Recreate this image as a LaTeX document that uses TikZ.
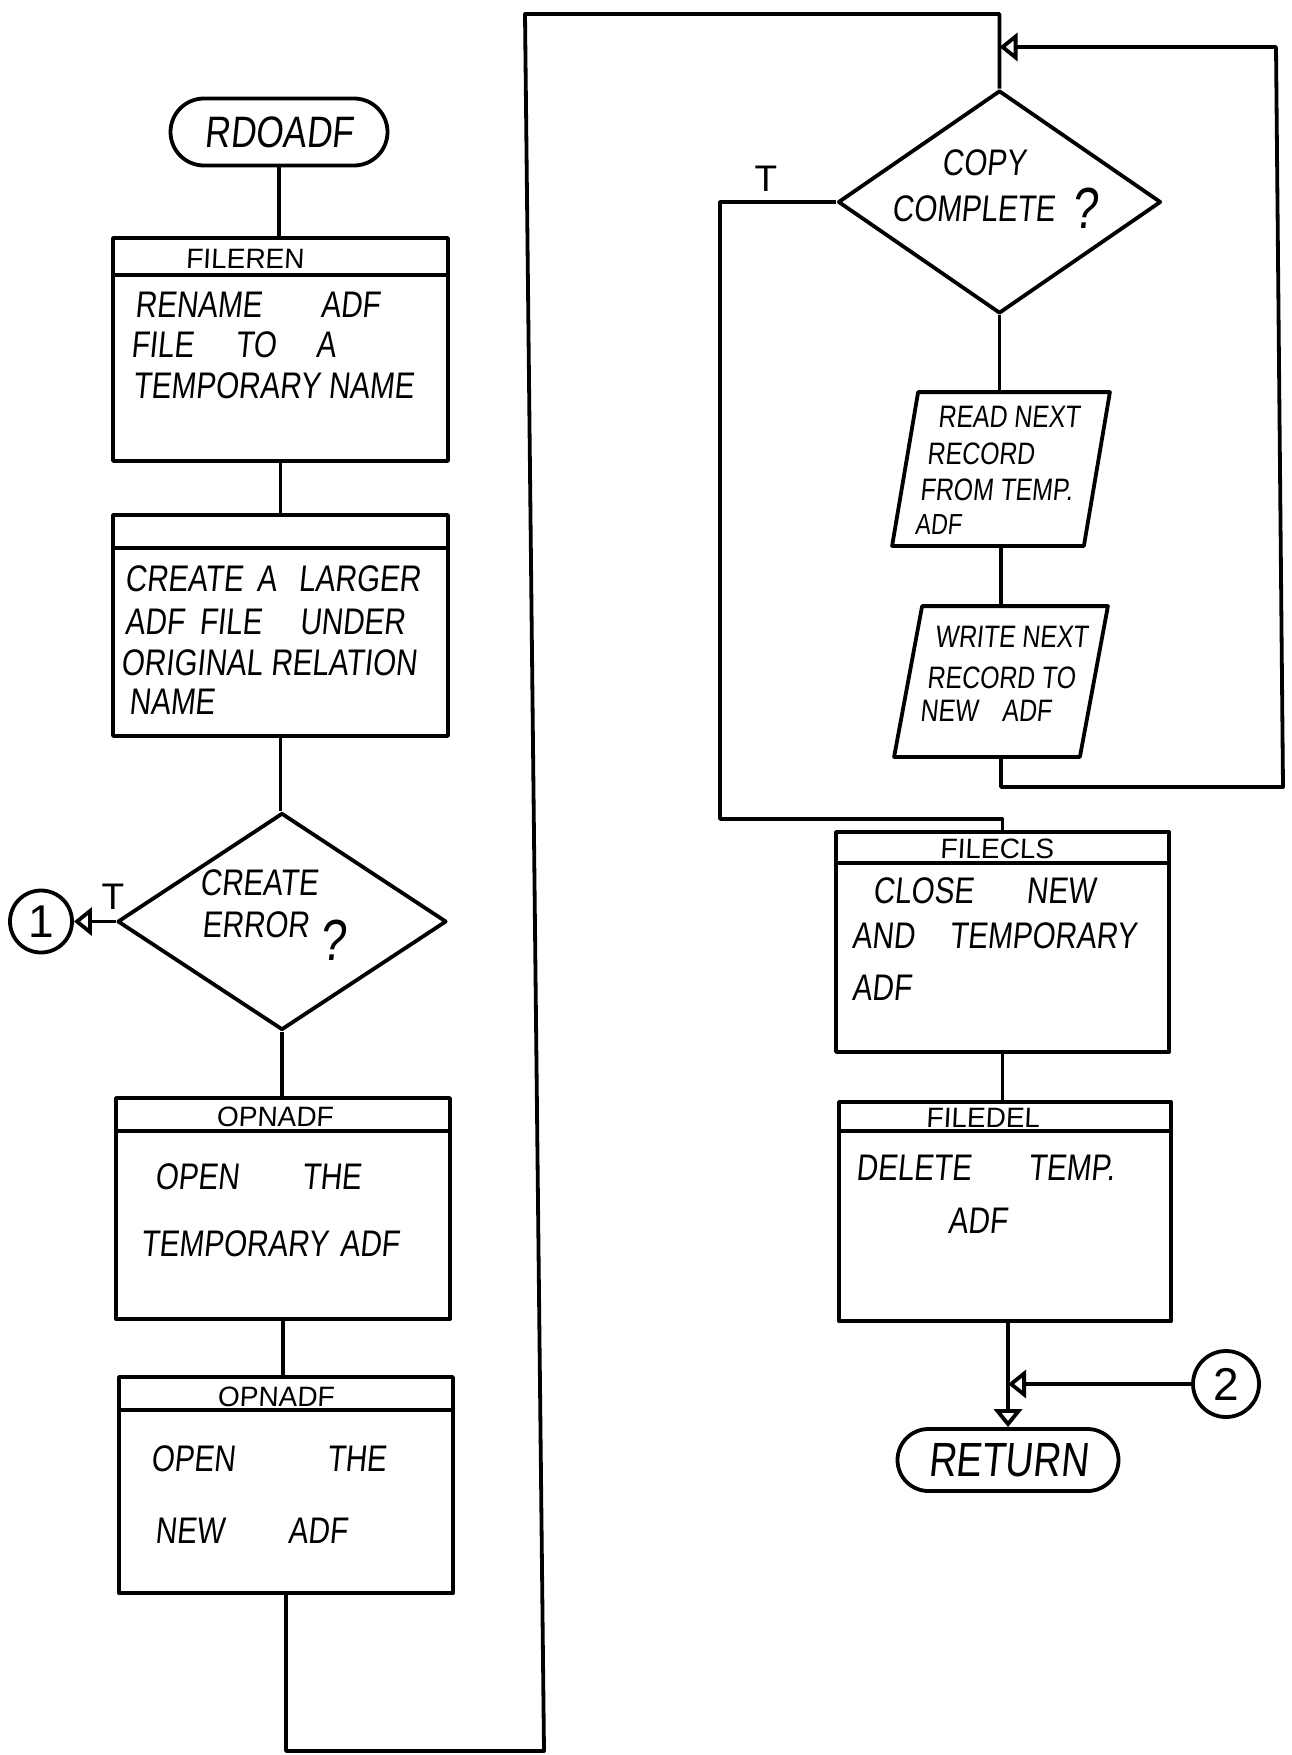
\documentclass[tikz,border=0pt]{standalone}
\usepackage{fontspec}
\setmainfont[FakeStretch=0.8,FakeSlant=0.1]{Liberation Sans}
\newfontfamily\hdfont[FakeSlant=0.05]{Liberation Sans}
\newfontfamily\upfont{Liberation Sans}
\usetikzlibrary{shapes.geometric,shapes.misc,arrows.meta,calc}
\begin{document}
\begin{tikzpicture}[x=1pt,y=-1pt, line width=3.8pt, line join=round,
  box/.style={draw, rectangle, inner sep=0},
  term/.style={draw, rounded rectangle, inner sep=0},
  dec/.style={draw, diamond, inner sep=0},
  iobox/.style={rectangle, inner sep=0},
  conn/.style={draw, circle, inner sep=0, font=\upfont\fontsize{46}{46}\selectfont},
  arr/.style={-{Triangle[open,length=18pt,width=28pt]}},
  body/.style={anchor=base west, inner sep=0, font=\fontsize{37}{40}\selectfont},
  pbody/.style={anchor=base west, inner sep=0, font=\fontsize{31}{34}\selectfont},
  hdr/.style={anchor=base, inner sep=0, font=\hdfont\fontsize{28}{30}\selectfont},
  qmark/.style={anchor=base west, inner sep=0, font=\fontsize{58}{58}\selectfont},
  tlab/.style={inner sep=0, font=\upfont\fontsize{37}{37}\selectfont}]
\useasboundingbox (0,0) rectangle (1291,1755);

% ---------- shapes, left column ----------
\node[term, minimum width=217pt, minimum height=67pt, font=\fontsize{44}{44}\selectfont] (start) at (279,132) {RDOADF};
\node[box, minimum width=335pt, minimum height=223pt] (b1) at (280.5,349.5) {};
\node[box, minimum width=335pt, minimum height=221pt] (b2) at (280.5,625.5) {};
\node[dec, minimum width=329pt, minimum height=217pt] (d1) at (282,921.5) {};
\node[conn, minimum size=62pt] (c1) at (41,921.5) {1};
\node[box, minimum width=334pt, minimum height=221pt] (b3) at (283,1208.5) {};
\node[box, minimum width=334pt, minimum height=216pt] (b4) at (286,1485) {};

% ---------- shapes, right column ----------
\node[dec, minimum width=323pt, minimum height=223pt] (d2) at (999.5,202) {};
\node[iobox, minimum width=214pt, minimum height=150pt] (read) at (1001,469) {};
\draw (read.south west) -- ($(read.north west)+(26,0)$) -- (read.north east) -- ($(read.south east)+(-26,0)$) -- cycle;
\node[iobox, minimum width=210pt, minimum height=147pt] (write) at (1001,681.5) {};
\draw (write.south west) -- ($(write.north west)+(28,0)$) -- (write.north east) -- ($(write.south east)+(-28,0)$) -- cycle;
\node[box, minimum width=333pt, minimum height=220pt] (b5) at (1002.5,942) {};
\node[box, minimum width=332pt, minimum height=219pt] (b6) at (1005,1211.5) {};
\node[term, minimum width=221pt, minimum height=62pt, font=\fontsize{48}{48}\selectfont] (ret) at (1008,1460) {RETURN};
\node[conn, minimum size=66pt] (c2) at (1226,1384) {2};

% ---------- header lines ----------
\draw ($(b1.north west)+(0,39)$) -- ($(b1.north east)+(0,39)$);
\draw ($(b2.north west)+(0,35)$) -- ($(b2.north east)+(0,35)$);
\draw ($(b3.north west)+(0,35)$) -- ($(b3.north east)+(0,35)$);
\draw ($(b4.north west)+(0,35)$) -- ($(b4.north east)+(0,35)$);
\draw ($(b5.north west)+(0,33)$) -- ($(b5.north east)+(0,33)$);
\draw ($(b6.north west)+(0,31)$) -- ($(b6.north east)+(0,31)$);

% ---------- texts ----------
\node[hdr] (h1) at (245,268) {FILEREN};
\node[body] (t1a) at (133,317) {RENAME\hspace{59pt}ADF};
\node[body] (t1b) at (129,357) {FILE\hspace{42pt}TO\hspace{40pt}A};
\node[body] (t1c) at (131,398) {TEMPORARY NAME};

\node[body] (t2a) at (123,591) {CREATE\hspace{14pt}A\hspace{22pt}LARGER};
\node[body] (t2b) at (123,634) {ADF\hspace{15pt}FILE\hspace{38pt}UNDER};
\node[body] (t2c) at (119,675) {ORIGINAL RELATION};
\node[body] (t2d) at (127,714) {NAME};

\node[body] (t3a) at (198,895) {CREATE};
\node[body] (t3b) at (200,937) {ERROR};
\node[qmark] (q1) at (318,960) {?};
\node[tlab] (tl1) at (113,897) {T};

\node[hdr] (h3) at (275,1126) {OPNADF};
\node[body] (t4a) at (153,1189) {OPEN\hspace{63pt}THE};
\node[body] (t4b) at (139,1256) {TEMPORARY\hspace{12pt}ADF};

\node[hdr] (h4) at (276,1406) {OPNADF};
\node[body] (t5a) at (149,1471) {OPEN\hspace{92pt}THE};
\node[body] (t5b) at (153,1543) {NEW\hspace{64pt}ADF};

\node[body] (t6a) at (940,176) {COPY};
\node[body] (t6b) at (890,222) {COMPLETE};
\node[qmark] (q2) at (1070,228) {?};
\node[tlab] (tl2) at (766,179) {T};

\node[pbody] (t7a) at (936,427) {READ NEXT};
\node[pbody] (t7b) at (925,464) {RECORD};
\node[pbody] (t7c) at (918,500) {FROM TEMP.};
\node[pbody, font=\fontsize{29}{30}\selectfont] (t7d) at (913,534) {ADF};

\node[pbody] (t8a) at (933,647) {WRITE NEXT};
\node[pbody] (t8b) at (925,688) {RECORD TO};
\node[pbody] (t8c) at (918,721) {NEW\hspace{24pt}ADF};

\node[hdr] (h5) at (997,858) {FILECLS};
\node[body] (t9a) at (871,903) {CLOSE\hspace{53pt}NEW};
\node[body] (t9b) at (850,948) {AND\hspace{35pt}TEMPORARY};
\node[body] (t9c) at (850,1000) {ADF};

\node[hdr] (h6) at (983,1127) {FILEDEL};
\node[body] (t10a) at (854,1180) {DELETE\hspace{57pt}TEMP.};
\node[body] (t10b) at (946,1233) {ADF};

% ---------- connectors ----------
\coordinate (lb) at (286,1751);
\coordinate (rb) at (544,1751);
\coordinate (rt) at (525,14);
\coordinate (wbr) at (1283,787);
\coordinate (wtr) at (1276,47);
\coordinate (tb) at (720,819);

\draw (start.south) -- (start.south |- b1.north);
\draw (b1.south) -- (b2.north);
\draw (b2.south) -- (b2.south |- d1.north);
\draw[arr] (d1.west) -- (c1.east);
\draw (d1.south) -- (d1.south |- b3.north);
\draw (b3.south) -- (b3.south |- b4.north);
\draw (b4.south) -- (b4.south |- lb) -- (rb) -- (rt) -- (d2.north |- rt) -- (d2.north);
\draw (d2.south) -- (d2.south |- read.north);
\draw (read.south) -- (read.south |- write.north);
\draw[arr] (write.south) -- (write.south |- wbr) -- (wbr) -- (wtr) -- (d2.north |- wtr);
\draw (d2.west) -- (d2.west -| tb) -- (tb) -- (tb -| b5.north) -- (b5.north);
\draw (b5.south) -- (b5.south |- b6.north);
\draw[arr] (ret.north |- b6.south) -- (ret.north);
\draw[arr] (c2.west) -- (c2.west -| ret.north);
\end{tikzpicture}
\end{document}
